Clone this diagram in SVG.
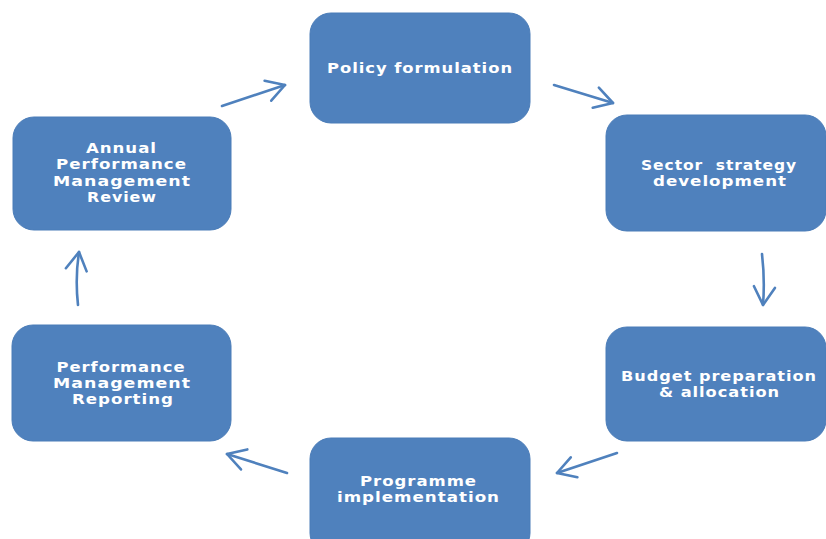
<svg xmlns="http://www.w3.org/2000/svg" width="826" height="539" viewBox="0 0 826 539">
<defs>
<style>
.box{fill:#4F81BD;stroke:#4A7CB8;stroke-width:1}
.lbl{fill:#FFFFFF;font-family:"DejaVu Sans","Liberation Sans",sans-serif;font-weight:bold;font-size:13.5px;text-anchor:middle;letter-spacing:0.8px}
.conn{fill:none;stroke:#4F81BD;stroke-width:2.6;stroke-linecap:round}
</style>
<marker id="ah" markerUnits="userSpaceOnUse" orient="auto" markerWidth="40" markerHeight="40" refX="0" refY="0" viewBox="-20 -20 40 40" overflow="visible">
<path d="M-18,-10.5 L0,0 L-18,10.5" fill="none" stroke="#4F81BD" stroke-width="2.6" stroke-linecap="round" stroke-linejoin="round"/>
</marker>
</defs>
<rect width="826" height="539" fill="#FFFFFF"/>
<g id="node-policy">
<rect class="box" x="310" y="13" width="220" height="110" rx="21" ry="21"/>
<text class="lbl" x="420" y="73" textLength="186" lengthAdjust="spacingAndGlyphs">Policy formulation</text>
</g>
<g id="node-sector">
<rect class="box" x="606" y="115" width="220" height="116" rx="21" ry="21"/>
<text class="lbl" x="719" y="170" textLength="156" lengthAdjust="spacingAndGlyphs" xml:space="preserve">Sector  strategy</text>
<text class="lbl" x="720" y="186" textLength="134" lengthAdjust="spacingAndGlyphs">development</text>
</g>
<g id="node-budget">
<rect class="box" x="606" y="327" width="220" height="114" rx="21" ry="21"/>
<text class="lbl" x="719" y="381" textLength="196" lengthAdjust="spacingAndGlyphs">Budget preparation</text>
<text class="lbl" x="719.5" y="397" textLength="121" lengthAdjust="spacingAndGlyphs">&amp; allocation</text>
</g>
<g id="node-programme">
<rect class="box" x="310" y="438" width="220" height="116" rx="21" ry="21"/>
<text class="lbl" x="418.5" y="486" textLength="117" lengthAdjust="spacingAndGlyphs">Programme</text>
<text class="lbl" x="418.5" y="502" textLength="163" lengthAdjust="spacingAndGlyphs">implementation</text>
</g>
<g id="node-reporting">
<rect class="box" x="12" y="325" width="219" height="116" rx="21" ry="21"/>
<text class="lbl" x="121" y="372" textLength="129" lengthAdjust="spacingAndGlyphs">Performance</text>
<text class="lbl" x="122" y="388" textLength="138" lengthAdjust="spacingAndGlyphs">Management</text>
<text class="lbl" x="123" y="404" textLength="102" lengthAdjust="spacingAndGlyphs">Reporting</text>
</g>
<g id="node-annual">
<rect class="box" x="13" y="117" width="218" height="113" rx="21" ry="21"/>
<text class="lbl" x="121.5" y="153" textLength="71" lengthAdjust="spacingAndGlyphs">Annual</text>
<text class="lbl" x="121.5" y="169" textLength="131" lengthAdjust="spacingAndGlyphs">Performance</text>
<text class="lbl" x="122" y="186" textLength="138" lengthAdjust="spacingAndGlyphs">Management</text>
<text class="lbl" x="122" y="202" textLength="70" lengthAdjust="spacingAndGlyphs">Review</text>
</g>
<g id="connectors">
<path class="conn" d="M222,106 L285,85" marker-end="url(#ah)"/>
<path class="conn" d="M554,85 L613,103" marker-end="url(#ah)"/>
<path class="conn" d="M762,254 Q765,280 763,305" marker-end="url(#ah)"/>
<path class="conn" d="M617,453 L557,473" marker-end="url(#ah)"/>
<path class="conn" d="M287,473 L227,454" marker-end="url(#ah)"/>
<path class="conn" d="M78,305 Q75,278 79,252" marker-end="url(#ah)"/>
</g>
</svg>
